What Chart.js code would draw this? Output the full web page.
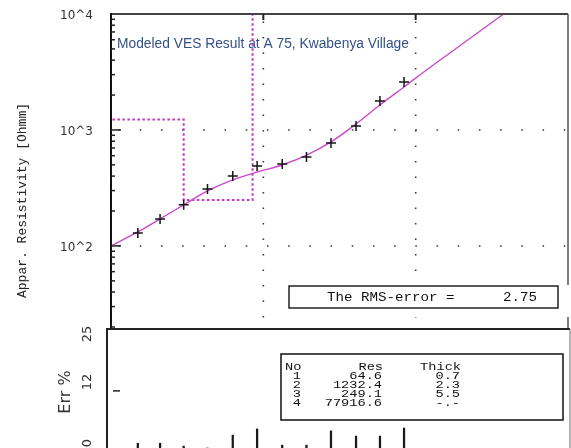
<!DOCTYPE html>
<html>
<head>
<meta charset="utf-8">
<script src="https://cdn.jsdelivr.net/npm/chart.js@4.4.1/dist/chart.umd.min.js"></script>
<style>
  html, body { margin: 0; padding: 0; background: #fff; }
  #wrap { position: relative; width: 571px; height: 448px; overflow: hidden; background: #fff; }
  #wrap canvas { position: absolute; left: 0; top: 0; }
</style>
</head>
<body>
<div id="wrap">
  <canvas id="ves" width="571" height="448"></canvas>
  <canvas id="err" width="571" height="448"></canvas>
</div>
<script>
// Field sounding: AB/2 [m] and apparent resistivity [Ohm·m]
const abHalf = [1.5, 2.1, 3.0, 4.3, 6.3, 9.1, 13.3, 19.2, 27.8, 40.6, 58.3, 83.9];
const rhoApparent = [129, 171, 226, 310, 401, 489, 509, 585, 773, 1083, 1778, 2594];

// Forward response of the fitted layer model
const modelAB = [1.0, 1.5, 2.1, 3.0, 4.3, 6.3, 9.1, 13.3, 19.4, 27.8, 40.6, 58.3, 83.9, 124, 168, 265, 386];
const modelRho = [100, 132, 171, 226, 298, 371, 434, 499, 609, 788, 1127, 1643, 2349, 3458, 4611, 7136, 10200];

// Fitted layer model
const layerNo = [1, 2, 3, 4];
const layerRes = [64.6, 1232.4, 249.1, 77916.6];
const layerThick = [0.7, 2.3, 5.5, null];

// Relative misfit per sounding point [%]
const errPct = [1.0, 1.0, 0.4, 0.0, 2.7, 4.0, 0.6, 0.6, 3.6, 2.5, 2.5, 4.2];
const rmsError = 2.75;

// Axis ranges, grid and tick labels
const xRange = [1, 1000];
const yRange = [19.6, 10000];
const errRange = [0, 25];
const xGridValues = [10, 100];
const yGridValues = [100, 1000];
const yTickValues = [100, 1000, 10000];
const yTickLabels = ['10^2', '10^3', '10^4'];
const errTickValues = [0, 12, 25];
const errTickLabels = ['0', '12', '25'];

const chartTitle = 'Modeled VES Result at A 75, Kwabenya Village';
const yTitle = 'Appar. Resistivity [Ohmm]';
const errTitle = 'Err %';

// Staircase of the layer model: resistivity versus depth
function layerSteps() {
  const pts = [];
  let top = xRange[0] / 10;
  let depth = 0;
  layerRes.forEach((r, i) => {
    const t = layerThick[i];
    const bottom = t == null ? xRange[1] * 10 : (depth += t);
    pts.push({ x: top, y: r }, { x: bottom, y: r });
    top = bottom;
  });
  return pts;
}

function seg(ctx, x1, y1, x2, y2) {
  ctx.beginPath();
  ctx.moveTo(x1, y1);
  ctx.lineTo(x2, y2);
  ctx.stroke();
}

// Monospaced, slightly widened text (terminal-style labels)
function monoText(ctx, str, x, y, align, size, sx, rotate) {
  ctx.save();
  ctx.translate(x, y);
  if (rotate) ctx.rotate(-Math.PI / 2);
  ctx.scale(sx, 1);
  ctx.font = size + 'px "Liberation Mono"';
  ctx.textAlign = align;
  ctx.textBaseline = 'alphabetic';
  ctx.fillText(str, 0, 0);
  ctx.restore();
}

// keep the plot rectangle exactly where the layout padding puts it
function fixedAxis(width) {
  return function (s) {
    s.width = width;
    s.paddingTop = 0;
    s.paddingBottom = 0;
    s.paddingLeft = 0;
    s.paddingRight = 0;
  };
}

const vesPanel = {
  id: 'vesPanel',
  beforeDatasetsDraw(chart) {
    const { ctx, chartArea: a, scales: { x, y } } = chart;
    ctx.save();
    // dotted decade grid
    ctx.strokeStyle = '#3a3a3a';
    ctx.lineWidth = 1.6;
    ctx.setLineDash([1.6, 19.6]);
    yGridValues.forEach(v => {
      const py = y.getPixelForValue(v);
      seg(ctx, a.left + 7.5, py, a.right, py);
    });
    ctx.setLineDash([1.6, 13.9]);
    xGridValues.forEach(v => {
      const px = x.getPixelForValue(v);
      seg(ctx, px, a.top + 7.5, px, a.bottom);
    });
    ctx.setLineDash([]);
    // plot caption
    ctx.font = '13.8px "Liberation Sans"';
    ctx.fillStyle = '#34508a';
    ctx.textAlign = 'left';
    ctx.textBaseline = 'alphabetic';
    ctx.fillText(chartTitle, a.left + 6, a.top + 34);
    ctx.restore();
  },
  afterDatasetsDraw(chart) {
    const { ctx, chartArea: a, scales: { x, y } } = chart;
    ctx.save();
    ctx.setLineDash([]);
    // frame
    ctx.strokeStyle = '#444';
    ctx.lineWidth = 2;
    seg(ctx, a.left, a.top, a.right, a.top);
    ctx.strokeStyle = '#555';
    ctx.lineWidth = 1.5;
    seg(ctx, a.right, a.top, a.right, a.bottom + 1);
    ctx.strokeStyle = '#111';
    ctx.lineWidth = 2;
    seg(ctx, a.left, a.top - 1, a.left, a.bottom);
    // inward log ticks on the resistivity axis
    ctx.strokeStyle = '#222';
    ctx.lineWidth = 1.5;
    const e0 = Math.floor(Math.log10(yRange[0]));
    const e1 = Math.ceil(Math.log10(yRange[1]));
    for (let e = e0; e <= e1; e++) {
      for (let m = 1; m <= 9; m++) {
        const v = m * Math.pow(10, e);
        if (v < yRange[0] || v >= yRange[1]) continue;
        const py = y.getPixelForValue(v);
        seg(ctx, a.left, py, a.left + (m === 1 ? 10 : 4), py);
      }
    }
    // major ticks on the top edge
    ctx.lineWidth = 2;
    xGridValues.forEach(v => {
      const px = x.getPixelForValue(v);
      seg(ctx, px, a.top, px, a.top + 6);
    });
    // RMS box
    const bx = a.right - 279, by = a.bottom - 42, bw = 269, bh = 22;
    ctx.fillStyle = '#fff';
    ctx.fillRect(bx - 3, by - 1, chart.width - bx + 3, 32);
    ctx.strokeStyle = '#222';
    ctx.lineWidth = 1.5;
    ctx.strokeRect(bx, by, bw, bh);
    ctx.fillStyle = '#111';
    monoText(ctx, 'The RMS-error =', bx + 38, by + 15, 'left', 12, 1.18);
    monoText(ctx, rmsError.toFixed(2), bx + 248, by + 15, 'right', 12, 1.18);
    // axis title
    ctx.fillStyle = '#222';
    monoText(ctx, yTitle, 26, 200.5, 'center', 12, 1.083, true);
    ctx.restore();
  }
};

const errPanel = {
  id: 'errPanel',
  afterDatasetsDraw(chart) {
    const { ctx, chartArea: a, scales: { y } } = chart;
    ctx.save();
    // frame
    ctx.strokeStyle = '#222';
    ctx.lineWidth = 2;
    seg(ctx, a.left - 5, a.top, a.right + 2, a.top);
    seg(ctx, a.left - 4, a.top, a.left - 4, a.bottom + 2);
    ctx.strokeStyle = '#666';
    ctx.lineWidth = 1;
    seg(ctx, a.right + 2, a.top, a.right + 2, a.bottom + 2);
    // ticks and rotated labels
    ctx.strokeStyle = '#222';
    ctx.lineWidth = 1.5;
    ctx.fillStyle = '#333';
    ctx.font = '13px "DejaVu Sans"';
    ctx.textAlign = 'center';
    ctx.textBaseline = 'alphabetic';
    errTickValues.forEach((v, i) => {
      const py = y.getPixelForValue(v);
      if (v > errRange[0] && v < errRange[1]) seg(ctx, a.left + 2, py, a.left + 9, py);
      const cy = Math.min(Math.max(py - 9, a.top + 5), a.bottom - 5);
      ctx.save();
      ctx.translate(90.5, v === errRange[0] ? a.bottom - 5 : cy);
      ctx.rotate(-Math.PI / 2);
      ctx.fillText(errTickLabels[i], 0, 0);
      ctx.restore();
    });
    ctx.save();
    ctx.font = '16px "DejaVu Sans"';
    ctx.translate(70, 392);
    ctx.rotate(-Math.PI / 2);
    ctx.fillText(errTitle, 0, 0);
    ctx.restore();
    // layer table
    const tx = 281, ty = a.top + 25, tw = 282, th = 66;
    ctx.fillStyle = '#fff';
    ctx.fillRect(tx, ty, tw, th);
    ctx.strokeStyle = '#111';
    ctx.lineWidth = 1.5;
    ctx.strokeRect(tx, ty, tw, th);
    ctx.fillStyle = '#111';
    const sx = 1.24, fs = 11;
    let base = ty + 15.5;
    monoText(ctx, 'No', tx + 4, base, 'left', fs, sx);
    monoText(ctx, 'Res', tx + 102, base, 'right', fs, sx);
    monoText(ctx, 'Thick', tx + 180, base, 'right', fs, sx);
    layerNo.forEach((n, i) => {
      base = ty + 24.5 + 9.3 * i;
      const t = layerThick[i];
      monoText(ctx, String(n), tx + 20, base, 'right', fs, sx);
      monoText(ctx, layerRes[i].toFixed(1), tx + 101, base, 'right', fs, sx);
      monoText(ctx, t == null ? '-.-' : t.toFixed(1), tx + 179, base, 'right', fs, sx);
    });
    ctx.restore();
  }
};

const common = {
  responsive: false,
  animation: false,
  devicePixelRatio: 1,
  events: [],
  plugins: { legend: { display: false }, tooltip: { enabled: false } }
};

const vesChart = new Chart(document.getElementById('ves'), {
  type: 'line',
  data: {
    datasets: [
      {
        label: 'Layer model',
        data: layerSteps(),
        borderColor: '#c634c6',
        borderWidth: 2,
        borderDash: [2.5, 2.5],
        pointRadius: 0,
        tension: 0,
        order: 3
      },
      {
        label: 'Model response',
        data: modelAB.map((x, i) => ({ x, y: modelRho[i] })),
        borderColor: '#cc48cc',
        borderWidth: 1.4,
        pointRadius: 0,
        cubicInterpolationMode: 'monotone',
        order: 2
      },
      {
        label: 'Field data',
        data: abHalf.map((x, i) => ({ x, y: rhoApparent[i] })),
        showLine: false,
        pointStyle: 'cross',
        pointRadius: 5,
        borderColor: '#151515',
        borderWidth: 1.5,
        order: 1
      }
    ]
  },
  options: Object.assign({}, common, {
    layout: { autoPadding: false, padding: { left: 0, top: 14, right: 3, bottom: 120 } },
    scales: {
      x: { type: 'logarithmic', min: xRange[0], max: xRange[1], display: false, offset: false },
      y: {
        type: 'logarithmic',
        min: yRange[0],
        max: yRange[1],
        grid: { display: false, drawTicks: false, tickLength: 0 },
        border: { display: false },
        afterFit: fixedAxis(111),
        afterBuildTicks(s) { s.ticks = yTickValues.map(v => ({ value: v })); },
        ticks: {
          autoSkip: false,
          callback: (v, i) => yTickLabels[i],
          font: { family: 'DejaVu Sans', size: 12 },
          color: '#333',
          padding: 18,
          labelOffset: 2
        }
      }
    }
  }),
  plugins: [vesPanel]
});

const errChart = new Chart(document.getElementById('err'), {
  type: 'bar',
  data: {
    datasets: [{
      label: 'Err %',
      data: abHalf.map((x, i) => ({ x, y: errPct[i] })),
      backgroundColor: '#1a1a1a',
      borderWidth: 0,
      barThickness: 1.6
    }]
  },
  options: Object.assign({}, common, {
    layout: { autoPadding: false, padding: { left: 111, top: 329, right: 3, bottom: 0 } },
    scales: {
      x: { type: 'logarithmic', min: xRange[0], max: xRange[1], display: false, offset: false, grid: { offset: false } },
      y: { type: 'linear', min: errRange[0], max: errRange[1], display: false }
    }
  }),
  plugins: [errPanel]
});

if (document.fonts && document.fonts.ready) {
  document.fonts.ready.then(() => { vesChart.draw(); errChart.draw(); });
}
</script>
</body>
</html>
